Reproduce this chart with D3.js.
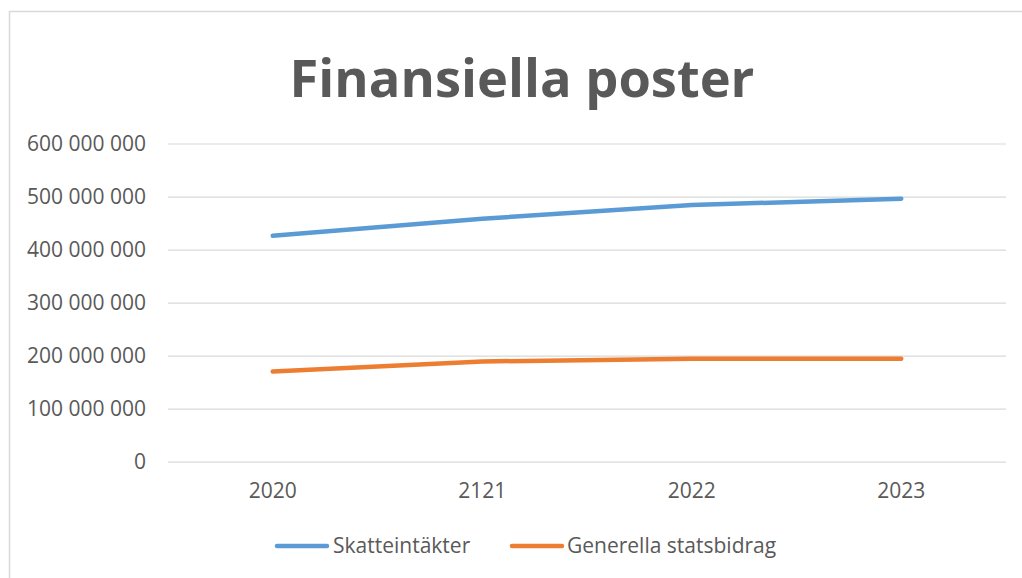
<!DOCTYPE html>
<html>
<head>
<meta charset="utf-8">
<script src="https://cdn.jsdelivr.net/npm/d3@7"></script>
<style>
  html, body { margin: 0; padding: 0; background: #fff; }
  svg { display: block; }
  text { font-family: "Open Sans", "Noto Sans", sans-serif; fill: #595959; }
</style>
</head>
<body>
<svg id="chart" width="1022" height="578"></svg>
<script>
// Chart data
const years = ["2020", "2121", "2022", "2023"];
const skatteintakter = [426000000, 458000000, 484000000, 496000000];
const generellaStatsbidrag = [170000000, 189000000, 194000000, 194000000];
const yTicks = [0, 100000000, 200000000, 300000000, 400000000, 500000000, 600000000];
const seriesNames = ["Skatteintäkter", "Generella statsbidrag"];
const seriesColors = ["#5B9BD5", "#ED7D31"];
const titleText = "Finansiella poster";

const W = 1022, H = 578;
const plot = { left: 168, right: 1006, top: 143.5, bottom: 461.7 };
const labelSize = 21;

const svg = d3.select("#chart");

// Outer chart frame (left and top edges visible)
svg.append("path")
  .attr("d", `M9.5,${H} L9.5,11.5 L${W},11.5`)
  .attr("fill", "none")
  .attr("stroke", "#d9d9d9")
  .attr("stroke-width", 1.5);

// Title, fitted to its width
const title = svg.append("text")
  .attr("x", 522)
  .attr("y", 97)
  .attr("text-anchor", "middle")
  .attr("font-weight", "bold")
  .attr("font-size", 60)
  .text(titleText);
const tw = title.node().getComputedTextLength();
title.attr("font-size", 60 * 465 / tw);

const x = d3.scaleBand().domain(years).range([plot.left, plot.right]);
const y = d3.scaleLinear().domain([0, 600000000]).range([plot.bottom, plot.top]);

const locale = d3.formatLocale({ decimal: ",", thousands: "\u00a0", grouping: [3], currency: ["", " kr"] });
const fmt = locale.format(",");

// Horizontal gridlines + y labels
const yAxis = d3.axisLeft(y)
  .tickValues(yTicks)
  .tickFormat(fmt)
  .tickSize(-(plot.right - plot.left))
  .tickPadding(22);

const gy = svg.append("g")
  .attr("transform", `translate(${plot.left},0)`)
  .call(yAxis);
gy.select(".domain").remove();
gy.selectAll(".tick line").attr("stroke", "#d9d9d9").attr("stroke-width", 1.2);
gy.selectAll(".tick text")
  .attr("font-size", labelSize)
  .style("font-family", '"Open Sans", sans-serif')
  .attr("fill", "#595959");

// X labels
const xAxis = d3.axisBottom(x).tickSize(0).tickPadding(21);
const gx = svg.append("g")
  .attr("transform", `translate(0,${plot.bottom})`)
  .call(xAxis);
gx.select(".domain").remove();
gx.selectAll(".tick text")
  .attr("font-size", labelSize)
  .style("font-family", '"Open Sans", sans-serif')
  .attr("fill", "#595959");

// Series lines
const series = [skatteintakter, generellaStatsbidrag];
const line = d3.line()
  .x((d, i) => x(years[i]) + x.bandwidth() / 2)
  .y(d => y(d));

series.forEach((vals, k) => {
  svg.append("path")
    .datum(vals)
    .attr("d", line)
    .attr("fill", "none")
    .attr("stroke", seriesColors[k])
    .attr("stroke-width", 4.5)
    .attr("stroke-linecap", "round")
    .attr("stroke-linejoin", "round");
});

// Legend
const legendItems = [
  { x1: 277, x2: 327, tx: 333 },
  { x1: 512, x2: 562, tx: 567 }
];
const lg = svg.append("g");
legendItems.forEach((it, k) => {
  lg.append("line")
    .attr("x1", it.x1).attr("x2", it.x2)
    .attr("y1", 546).attr("y2", 546)
    .attr("stroke", seriesColors[k])
    .attr("stroke-width", 4.5)
    .attr("stroke-linecap", "round");
  lg.append("text")
    .attr("x", it.tx)
    .attr("y", 546)
    .attr("dy", "0.35em")
    .attr("font-size", labelSize)
    .text(seriesNames[k]);
});
</script>
</body>
</html>
